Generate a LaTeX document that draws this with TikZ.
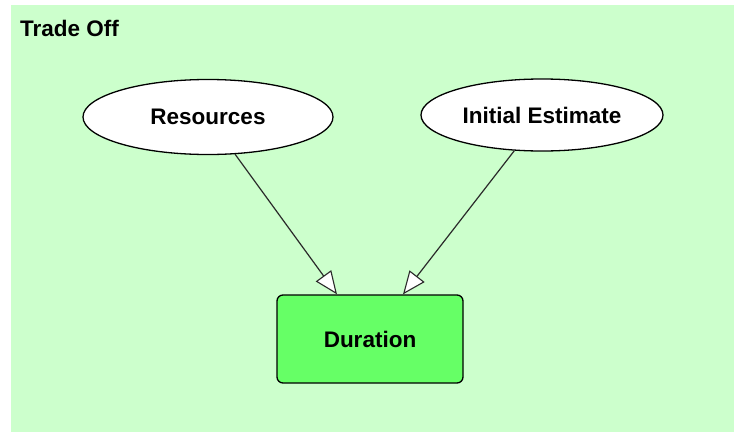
\documentclass[tikz,border=0pt]{standalone}
\usepackage{fontspec}
\setmainfont{Liberation Sans}
\usetikzlibrary{shapes.geometric,arrows.meta}
\definecolor{paneBg}{HTML}{CCFFCC}
\definecolor{boxFill}{HTML}{66FF66}
\definecolor{edgeCol}{HTML}{2A2A2A}
\tikzset{
  labelfont/.style={font=\fontsize{22.5}{25}\selectfont\bfseries},
  chance/.style={ellipse, draw=black, line width=1.3pt, fill=white,
    minimum width=250pt, minimum height=75pt, inner sep=0pt, labelfont},
  decision/.style={rectangle, rounded corners=6pt, draw=black, line width=1.3pt,
    fill=boxFill, minimum width=186pt, minimum height=88pt, inner sep=0pt, labelfont},
  link/.style={draw=edgeCol, line width=1.2pt,
    -{Triangle[open, fill=white, length=23pt, width=19pt, line width=1.1pt]}},
  heading/.style={anchor=base west, inner sep=0pt, labelfont}
}
\begin{document}
\begin{tikzpicture}[x=1pt, y=-1pt]
  \useasboundingbox (0,0) rectangle (734,434);
  \fill[white] (0,0) rectangle (734,434);
  \fill[paneBg] (11,5) rectangle (734,432);
  \node[heading] (title) at (20,36) {Trade Off};
  \node[chance] (res) at (208,117) {Resources};
  \node[chance, minimum width=242pt, minimum height=72pt] (init) at (542,115) {Initial Estimate};
  \node[decision] (dur) at (370,339) {Duration};
  \draw[link] (res) -- (dur.north -| 337,0);
  \draw[link] (init) -- (dur.north -| 403,0);
\end{tikzpicture}
\end{document}
